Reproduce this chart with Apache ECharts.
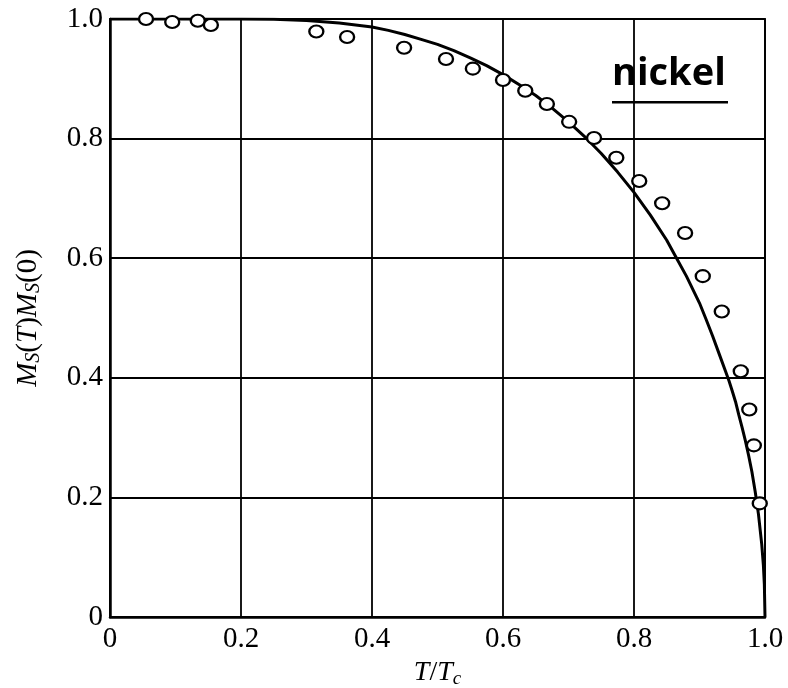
<!DOCTYPE html>
<html>
<head>
<meta charset="utf-8">
<script src="https://cdn.jsdelivr.net/npm/echarts@6/dist/echarts.min.js"></script>
<style>
  html, body { margin: 0; padding: 0; background: #fff; }
  #chart { width: 788px; height: 688px; }
</style>
</head>
<body>
<div id="chart"></div>
<script>
// measured points (T/Tc, Ms(T)/Ms(0))
const pointsT = [0.055, 0.095, 0.134, 0.154, 0.315, 0.362, 0.449, 0.513, 0.554, 0.600,
  0.634, 0.667, 0.701, 0.739, 0.773, 0.808, 0.843, 0.878, 0.905, 0.934,
  0.963, 0.976, 0.983, 0.992];
const pointsM = [1.000, 0.995, 0.997, 0.990, 0.979, 0.970, 0.952, 0.933, 0.917, 0.898,
  0.880, 0.858, 0.828, 0.801, 0.768, 0.729, 0.692, 0.642, 0.570, 0.511,
  0.411, 0.347, 0.287, 0.190];

// theory curve
const curveT = [0, 0.1, 0.2, 0.25, 0.3, 0.35, 0.4, 0.425, 0.45, 0.475, 0.5, 0.525, 0.55, 0.575,
  0.6, 0.625, 0.65, 0.675, 0.7, 0.725, 0.75, 0.775, 0.8, 0.825, 0.85, 0.865, 0.88, 0.9, 0.91,
  0.92, 0.93, 0.94, 0.945, 0.95, 0.955, 0.96, 0.965, 0.97, 0.975, 0.98, 0.985, 0.99, 0.995,
  0.9975, 0.999, 1];
const curveM = [1, 1, 1, 0.9997, 0.9975, 0.9934, 0.9865, 0.981, 0.974, 0.966, 0.9575, 0.947, 0.935, 0.922,
  0.907, 0.89, 0.872, 0.851, 0.828, 0.803, 0.775, 0.744, 0.71, 0.672, 0.63, 0.6, 0.57, 0.525, 0.498,
  0.47, 0.44, 0.41, 0.395, 0.378, 0.36, 0.338, 0.317, 0.295, 0.27, 0.243, 0.21, 0.172, 0.122,
  0.087, 0.055, 0];

const xTickLabels = ['0', '0.2', '0.4', '0.6', '0.8', '1.0'];
const yTickLabels = ['0', '0.2', '0.4', '0.6', '0.8', '1.0'];

const chart = echarts.init(document.getElementById('chart'));

const labelFont = {
  fontFamily: 'Liberation Serif',
  fontSize: 29,
  color: '#000'
};

chart.setOption({
  animation: false,
  grid: {
    left: 110, right: 23, top: 19, bottom: 71,
    outerBoundsMode: 'none',
    containLabel: false,
    show: true, borderColor: '#000', borderWidth: 1.8
  },
  xAxis: {
    type: 'value', min: 0, max: 1, interval: 0.2,
    name: '{i|T}{n|/}{i|T}{s|c}',
    nameLocation: 'middle', nameGap: 30,
    nameTextStyle: {
      rich: {
        i: { fontFamily: 'Liberation Serif', fontStyle: 'italic', fontSize: 28, color: '#000' },
        n: { fontFamily: 'Liberation Serif', fontSize: 28, color: '#000' },
        s: { fontFamily: 'Liberation Serif', fontStyle: 'italic', fontSize: 19, color: '#000', verticalAlign: 'bottom', padding: [12, 0, 0, 0] }
      }
    },
    axisLine: { lineStyle: { color: '#000', width: 2.5 } },
    axisTick: { show: false },
    axisLabel: Object.assign({ margin: 8, formatter: (v) => xTickLabels[Math.round(v / 0.2)] }, labelFont),
    splitLine: { show: true, lineStyle: { color: '#000', width: 1.8 } }
  },
  yAxis: {
    type: 'value', min: 0, max: 1, interval: 0.2,
    name: '{i|M}{s|S}{n|(}{i|T}{n|)}{i|M}{s|S}{n|(0)}',
    nameLocation: 'middle', nameGap: 66, nameRotate: 90,
    nameTextStyle: {
      rich: {
        i: { fontFamily: 'Liberation Serif', fontStyle: 'italic', fontSize: 29, color: '#000' },
        n: { fontFamily: 'Liberation Serif', fontSize: 29, color: '#000' },
        s: { fontFamily: 'Liberation Serif', fontStyle: 'italic', fontSize: 20, color: '#000', verticalAlign: 'bottom', padding: [12, 0, 0, 0] }
      }
    },
    axisLine: { lineStyle: { color: '#000', width: 2.5 } },
    axisTick: { show: false },
    axisLabel: Object.assign({ margin: 7, formatter: (v) => yTickLabels[Math.round(v / 0.2)] }, labelFont),
    splitLine: { show: true, lineStyle: { color: '#000', width: 1.8 } }
  },
  graphic: [
    {
      type: 'text', left: 612, top: 55, z: 100,
      style: { text: 'nickel', fontFamily: 'Open Sans', fontWeight: 'bold', fontSize: 38, fill: '#000' }
    },
    {
      type: 'rect', left: 612, top: 101, z: 100,
      shape: { width: 116, height: 2.5 },
      style: { fill: '#000' }
    }
  ],
  series: [
    {
      type: 'line',
      data: curveT.map((t, i) => [t, curveM[i]]),
      showSymbol: false,
      smooth: false,
      lineStyle: { color: '#000', width: 3 },
      z: 2
    },
    {
      type: 'scatter',
      data: pointsT.map((t, i) => [t, pointsM[i]]),
      symbol: 'circle',
      symbolSize: [14, 12],
      itemStyle: { color: '#fff', opacity: 1, borderColor: '#000', borderWidth: 2.2 },
      z: 3
    }
  ]
});
</script>
</body>
</html>
